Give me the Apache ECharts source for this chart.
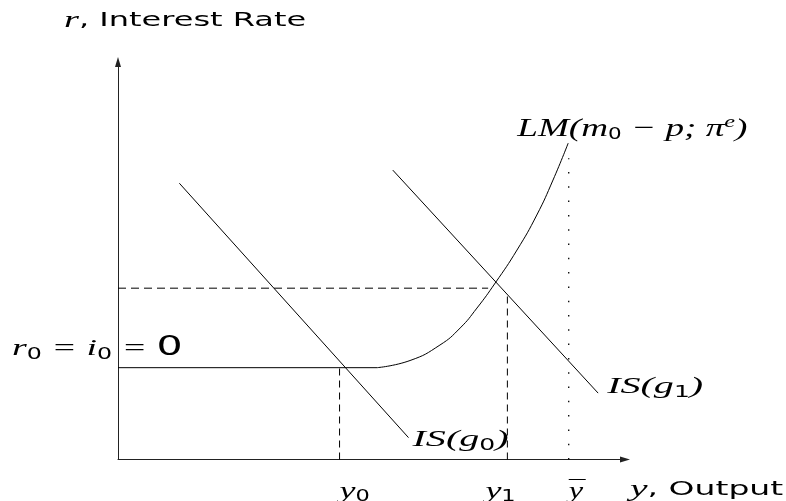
<!DOCTYPE html>
<html>
<head>
<meta charset="utf-8">
<script src="https://cdn.jsdelivr.net/npm/echarts@6/dist/echarts.min.js"></script>
<style>
  html, body { margin: 0; padding: 0; background: #fff; }
  #main { width: 786px; height: 501px; }
</style>
</head>
<body>
<div id="main"></div>
<script>
// chart units: output 0..100 along x, interest rate 0..100 along y
const isG0 = [[12.1, 69.5], [57.3, 5.5]];
const isG1 = [[54.2, 72.8], [94.7, 16.7]];
const lmFlat = [[0, 23.1], [51.1, 23.1]];
const lmCurve = [
  [51.1, 23.1], [57.6, 24.9], [63.5, 28.8], [67.5, 33.1], [70.8, 38.1],
  [74.4, 44.4], [78.7, 52.7], [82.6, 61.5], [85.8, 70.3], [88.8, 79.6]
];

// guide lines
const rateGuide = [[0, 43.1], [73.0, 43.1]];
const y0Guide = [[43.7, 0], [43.7, 23.1]];
const y1Guide = [[76.8, 0], [76.8, 41.4]];
const yBarGuide = [[88.9, 0], [88.9, 75.8]];

const chart = echarts.init(document.getElementById('main'));

function curve(data, extra) {
  return Object.assign({
    type: 'line',
    data: data,
    symbol: 'none',
    silent: true,
    lineStyle: { color: '#000', width: 1 }
  }, extra || {});
}

function guide(data, dash, width) {
  return curve(data, { lineStyle: { color: '#000', width: width || 1, type: dash } });
}

const axisCommon = {
  type: 'value',
  min: 0,
  max: 100,
  axisLine: {
    show: true,
    symbol: ['none', 'triangle'],
    symbolSize: [6, 10],
    lineStyle: { color: '#222', width: 1 }
  },
  axisTick: { show: false },
  axisLabel: { show: false },
  splitLine: { show: false }
};

chart.setOption({
  animation: false,
  backgroundColor: '#fff',
  grid: { left: 118, right: 161, top: 62, bottom: 41.5 },
  xAxis: axisCommon,
  yAxis: axisCommon,
  series: [
    curve(isG0),
    curve(isG1),
    curve(lmFlat),
    curve(lmCurve, { smooth: 0.5 }),
    guide(rateGuide, [8, 5]),
    guide(y0Guide, [7, 5]),
    guide(y1Guide, [7, 5]),
    guide(yBarGuide, [1.5, 12.8], 1.3)
  ]
});

// text styles for labels
const rich = {
  m: { fontFamily: 'Liberation Serif', fontStyle: 'italic', fontSize: 24, fill: '#000' },
  L: { fontFamily: 'Liberation Serif', fontStyle: 'italic', fontSize: 26, fill: '#000' },
  s: { fontFamily: 'DejaVu Sans', fontSize: 20, fill: '#000' },
  z: { fontFamily: 'DejaVu Sans', fontSize: 26, fill: '#000' },
  d: { fontFamily: 'DejaVu Sans', fontSize: 15, fill: '#000', padding: [12, 0, 0, 0] },
  e: { fontFamily: 'Liberation Serif', fontStyle: 'italic', fontSize: 17, fill: '#000', padding: [0, 0, 14, 0] }
};

function px(pt) {
  return chart.convertToPixel({ gridIndex: 0 }, pt);
}

function label(pt, dx, dy, text, sx) {
  const p = px(pt);
  return {
    type: 'text',
    x: p[0] + dx,
    y: p[1] + dy,
    scaleX: sx,
    silent: true,
    style: {
      text: text,
      rich: rich,
      align: 'left',
      verticalAlign: 'middle',
      textAlign: 'left',
      textVerticalAlign: 'middle'
    }
  };
}

// overline drawn above the y of full-employment output
function overline(pt, dx, dy, len) {
  const p = px(pt);
  return {
    type: 'line',
    silent: true,
    shape: { x1: p[0] + dx, y1: p[1] + dy, x2: p[0] + dx + len, y2: p[1] + dy },
    style: { stroke: '#000', lineWidth: 1 }
  };
}

const lastOf = arr => arr[arr.length - 1];

chart.setOption({
  graphic: [
    label([0, 100], -54, -41, '{m|r}{s|, Interest Rate}', 1.6),
    label([100, 0], 5, 30, '{m|y}{s|, Output}', 1.65),
    label(lastOf(lmCurve), -51, -14, '{L|LM(m}{d|0}{L| − p; π}{e|e}{L|)}', 1.43),
    label(lastOf(isG1), 9, -6, '{m|IS(g}{d|1}{m|)}', 1.67),
    label(lastOf(isG0), 4, 2, '{m|IS(g}{d|0}{m|)}', 1.67),
    label(lmFlat[0], -106, -19, '{m|r}{d|0}{m| = i}{d|0}{m| = }{z|0}', 1.58),
    label(y0Guide[0], 0, 32, '{m|y}{d|0}', 1.5),
    label(y1Guide[0], -22, 32, '{m|y}{d|1}', 1.5),
    label(yBarGuide[0], 0, 32, '{m|y}', 1.35),
    overline(yBarGuide[0], 0, 20, 17)
  ]
});
</script>
</body>
</html>
